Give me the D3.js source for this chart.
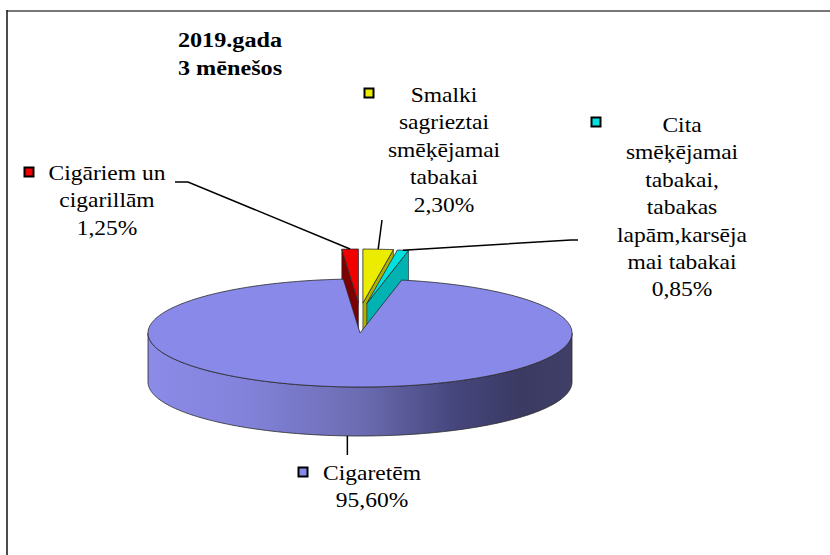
<!DOCTYPE html>
<html>
<head>
<meta charset="utf-8">
<script src="https://cdn.jsdelivr.net/npm/d3@7"></script>
<style>
  body { margin: 0; background: #fff; }
</style>
</head>
<body>
<div id="chart"></div>
<script>
/* data */
const categories = ["Cigāriem un cigarillām", "Smalki sagrieztai smēķējamai tabakai",
  "Cita smēķējamai tabakai, tabakas lapām,karsējamai tabakai", "Cigaretēm"];
const labelLines = [
  ["Cigāriem un", "cigarillām"],
  ["Smalki", "sagrieztai", "smēķējamai", "tabakai"],
  ["Cita", "smēķējamai", "tabakai,", "tabakas", "lapām,karsēja", "mai tabakai"],
  ["Cigaretēm"]
];
const values = [1.25, 2.30, 0.85, 95.60];
const valueLabels = ["1,25%", "2,30%", "0,85%", "95,60%"];
const exploded = [true, true, true, false];
const titleLines = ["2019.gada", "3 mēnešos"];

/* styles */
const topColors = ["#f20000", "#ecec00", "#00e2e2", "#8989e9"];
const wallColors = ["#7c0000", "#b0b000", "#00b2b2", "#6a6ab0"];
const serif = "'Liberation Serif', 'Times New Roman', 'DejaVu Serif', serif";

var width = 830, height = 555;
var svg = d3.select("#chart").append("svg")
    .attr("width", width)
    .attr("height", height);

/* frame */
svg.append("line").attr("x1", 7).attr("x2", 830).attr("y1", 11).attr("y2", 11)
    .attr("stroke", "#777").attr("stroke-width", 2);
svg.append("line").attr("x1", 7).attr("x2", 7).attr("y1", 10).attr("y2", 555)
    .attr("stroke", "#111").attr("stroke-width", 1.5);

/* 3d pie geometry */
var cx = 360, cy = 333, rx = 212, ry = 54, depth = 49;
var explodeX = 40, explodeY = 30;

var total = d3.sum(values);
var start = -values[0] / total * 2 * Math.PI;
var pie = d3.pie().sort(null).value(function(d) { return d; })
    .startAngle(start).endAngle(start + 2 * Math.PI);
var arcs = pie(values);

function offsetOf(d, i) {
    if (!exploded[i]) return [0, 0];
    var mid = (d.startAngle + d.endAngle) / 2;
    return [explodeX * Math.sin(mid), -explodeY * Math.cos(mid)];
}
function pt(theta, r, z, off) {
    return [cx + off[0] + r * rx * Math.sin(theta), cy + off[1] - r * ry * Math.cos(theta) + z];
}
function arcPts(a0, a1, z, off) {
    var n = Math.max(2, Math.ceil(Math.abs(a1 - a0) / 0.02));
    return d3.range(n + 1).map(function(k) { return pt(a0 + (a1 - a0) * k / n, 1, z, off); });
}
var line = d3.line();

var defs = svg.append("defs");
var grad = defs.append("linearGradient").attr("id", "sideGrad")
    .attr("gradientUnits", "userSpaceOnUse")
    .attr("x1", cx - rx).attr("x2", cx + rx).attr("y1", 0).attr("y2", 0);
[["0%", "#8b8be8"], ["22%", "#8383dc"], ["50%", "#6c6cb2"], ["72%", "#46467e"],
 ["88%", "#3a3a62"], ["100%", "#3f3f68"]].forEach(function(s) {
    grad.append("stop").attr("offset", s[0]).attr("stop-color", s[1]);
});

/* paint back slices first */
var order = arcs.map(function(d, i) { return i; })
    .sort(function(a, b) { return (exploded[a] ? 0 : 1) - (exploded[b] ? 0 : 1); });

var pieG = svg.append("g");
order.forEach(function(i) {
    var d = arcs[i], off = offsetOf(d, i);
    var a0 = d.startAngle, a1 = d.endAngle;
    var g = pieG.append("g");

    /* front part of the outer side */
    var f0 = Math.max(a0, Math.PI / 2), f1 = Math.min(a1, 3 * Math.PI / 2);
    if (f1 > f0) {
        var pts = arcPts(f0, f1, 0, off).concat(arcPts(f1, f0, depth, off));
        g.append("path").attr("d", line(pts) + "Z")
            .attr("fill", exploded[i] ? wallColors[i] : "url(#sideGrad)")
            .attr("stroke", "#2a2a2a").attr("stroke-width", 0.8);
    }
    /* radial walls facing the viewer */
    [[a0, -Math.sin(a0)], [a1, Math.sin(a1)]].forEach(function(w) {
        if (w[1] <= 0.001) return;
        var c0 = pt(w[0], 0, 0, off), e0 = pt(w[0], 1, 0, off);
        var e1 = pt(w[0], 1, depth, off), c1 = pt(w[0], 0, depth, off);
        g.append("path").attr("d", line([c0, e0, e1, c1]) + "Z")
            .attr("fill", wallColors[i])
            .attr("stroke", "#222").attr("stroke-width", 0.6);
    });
    /* top face */
    var top = [pt(a0, 0, 0, off)].concat(arcPts(a0, a1, 0, off));
    g.append("path").attr("d", line(top) + "Z")
        .attr("fill", topColors[i])
        .attr("stroke", "#2a2a2a").attr("stroke-width", 0.8);
});

/* leader lines */
function anchorOf(i) {
    var d = arcs[i], off = offsetOf(d, i);
    var mid = (d.startAngle + d.endAngle) / 2;
    return exploded[i] ? pt(mid, 1, 0, off) : pt(mid, 1, depth, off);
}
var leaders = [
    [[175, 182], [188, 182], anchorOf(0)],
    [[382, 220], anchorOf(1)],
    [[578, 240], [571, 240], anchorOf(2)],
    [[anchorOf(3)[0], 455], anchorOf(3)]
];
svg.append("g").selectAll("path")
    .data(leaders)
    .enter().append("path")
    .attr("d", function(d) { return line(d); })
    .attr("fill", "none")
    .attr("stroke", "#000")
    .attr("stroke-width", 1.5);

/* labels */
var labelPos = [
    { x: 107, y: 180, mx: 29, my: 172 },
    { x: 444, y: 102, mx: 369, my: 93 },
    { x: 682, y: 132, mx: 596, my: 122 },
    { x: 372, y: 480, mx: 303, my: 472 }
];
var lineStep = 27.4;

labelPos.forEach(function(p, i) {
    svg.append("rect")
        .attr("x", p.mx - 4.5).attr("y", p.my - 4.5)
        .attr("width", 9).attr("height", 9)
        .attr("fill", topColors[i])
        .attr("stroke", "#000").attr("stroke-width", 2);

    var t = svg.append("g")
        .attr("transform", "translate(" + p.x + "," + p.y + ") scale(1.12,1)");
    labelLines[i].concat([valueLabels[i]]).forEach(function(s, k) {
        t.append("text")
            .attr("x", 0).attr("y", k * lineStep)
            .attr("text-anchor", "middle")
            .attr("font-family", serif)
            .style("font-family", serif)
            .style("font-size", "21px")
            .attr("fill", "#000")
            .text(s);
    });
});

/* title */
var tg = svg.append("g").attr("transform", "translate(230,47) scale(1.1,1)");
titleLines.forEach(function(s, k) {
    tg.append("text")
        .attr("x", 0).attr("y", k * 28)
        .attr("text-anchor", "middle")
        .style("font-family", serif)
        .style("font-size", "22px")
        .style("font-weight", "bold")
        .text(s);
});
</script>
</body>
</html>
